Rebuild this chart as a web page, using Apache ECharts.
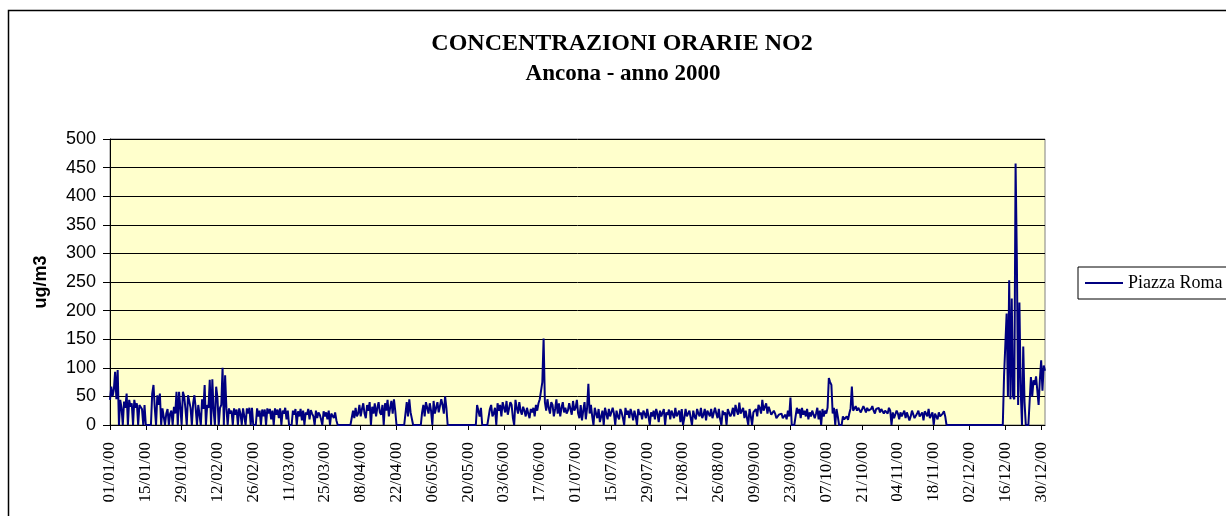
<!DOCTYPE html>
<html>
<head>
<meta charset="utf-8">
<script src="https://cdn.jsdelivr.net/npm/echarts@6/dist/echarts.min.js"></script>
<style>
  html, body { margin: 0; padding: 0; background: #fff; }
  #chart { width: 1226px; height: 516px; }
</style>
</head>
<body>
<div id="chart"></div>
<script>
// NO2 hourly concentrations, Ancona 2000 - two readings per day (night / day), ug/m3
// missing data is drawn as 0 like in the original sheet
var jan = [44,67, 50,62, 93,45, 96,0, 44,30, 0,41, 30,55, 0,44, 32,38, 0,44, 30,38, 0,35, 38,28, 0,35, 0,0, 0,0,
  0,55, 70,30, 0,52, 35,55, 0,29, 26,0, 20,28, 0,20, 25,0, 32,20, 58,0, 58,30, 0,58, 50,28, 0,52];
var feb = [55,30, 0,38, 52,29, 0,35, 38,0, 45,28, 70,0, 35,30, 79,0, 80,25, 0,67, 48,0, 30,35, 100,0, 87,29,
  0,29, 20,25, 0,29, 18,27, 0,29, 20,0, 29,15, 0,29, 20,30, 0,30, 0,0, 0,29, 15,25, 0,27];
var mar = [15,27, 0,29, 20,28, 10,25, 0,29, 18,27, 12,29, 0,25, 20,30, 10,25, 0,0, 0,25, 18,28, 0,24, 15,28,
  8,25, 0,22, 18,28, 10,26, 20,15, 0,25, 12,22, 18,10, 0,24, 15,22, 10,25, 0,20, 18,12, 22,8, 0,0, 0,0];
var apr = [0,0, 0,0, 0,0, 0,0, 25,12, 30,15, 20,35, 15,28, 38,20, 12,35, 25,40, 0,32, 20,38, 15,30, 40,22,
  18,35, 0,38, 25,44, 15,30, 42,20, 45,25, 0,0, 0,0, 0,0, 0,20, 40,15, 45,22, 20,0, 0,0, 0,0];
var may = [0,0, 22,35, 15,40, 30,20, 38,25, 0,42, 20,30, 40,22, 25,45, 35,20, 50,30,
  0,0, 0,0, 0,0, 0,0, 0,0, 0,0, 0,0, 0,0, 0,0, 0,0, 0,0,
  0,35, 38,15, 30,0, 0,0, 0,0, 0,28, 35,15, 20,30, 0,38];
var jun = [25,35, 15,40, 30,22, 42,18, 20,40, 35,12, 0,44, 30,20, 40,25, 18,32, 25,15, 30,20, 12,28, 22,30, 15,35,
  25,38, 45,60, 75,151, 40,25, 45,30, 20,40, 35,15, 28,45, 20,38, 15,30, 40,22, 30,20, 25,38, 35,18, 42,25];
var jul = [30,44, 20,12, 35,8, 25,40, 10,30, 72,20, 35,15, 0,30, 20,12, 28,5, 15,25, 0,30, 20,10, 28,15, 12,30,
  20,0, 25,15, 10,28, 22,12, 0,30, 18,25, 12,28, 20,8, 25,15, 0,28, 18,22, 10,25, 20,12, 28,15, 0,22, 15,25];
var aug = [10,28, 20,5, 25,15, 12,28, 0,22, 18,27, 10,25, 22,12, 30,15, 18,25, 5,28, 0,12, 28,15, 12,25, 22,0,
  25,15, 10,28, 20,15, 30,12, 18,28, 8,25, 22,15, 28,12, 15,30, 20,12, 28,10, 0,25, 18,22, 0,28, 25,15, 20,30];
var sep = [15,35, 25,18, 39,20, 18,30, 12,25, 22,0, 28,15, 0,22, 20,28, 15,35, 30,20, 44,25, 28,38, 20,32, 35,18,
  15,25, 20,12, 10,18, 15,20, 12,15, 18,10, 25,15, 48,0, 0,0, 0,30, 20,28, 12,30, 18,25, 15,28, 10,22];
var oct = [15,25, 28,12, 20,30, 10,25, 0,28, 15,25, 20,30, 82,75, 70,20, 30,0, 28,15, 0,0, 0,15, 10,12, 15,9,
  20,29, 67,25, 28,33, 25,30, 30,22, 25,33, 28,22, 30,25, 22,28, 33,25, 20,28, 25,30, 22,28, 30,20, 25,28, 20,30];
var nov = [25,0, 22,12, 15,25, 20,10, 22,15, 18,25, 12,22, 20,8, 15,25, 22,12, 10,20, 25,15, 18,22, 8,24, 20,15,
  28,12, 15,22, 0,20, 18,10, 22,15, 12,20, 24,15, 0,0, 0,0, 0,0, 0,0, 0,0, 0,0, 0,0, 0,0];
var dec = [0,0, 0,0, 0,0, 0,0, 0,0, 0,0, 0,0, 0,0, 0,0, 0,0, 0,0, 0,0, 0,0, 0,0,
  0,87, 87,195, 50,253, 45,221, 50,45, 457,288, 35,214, 60,0, 137,40, 0,0, 0,0, 84,50, 78,70, 85,60, 35,80, 113,60, 104,95];

var piazzaRoma = [].concat(jan, feb, mar, apr, may, jun, jul, aug, sep, oct, nov, dec);

// category labels dd/mm/00, one per reading (two per day)
var categories = [];
for (var d = 0; d < 366; d++) {
  var dt = new Date(2000, 0, 1 + d);
  var s = ('0' + dt.getDate()).slice(-2) + '/' + ('0' + (dt.getMonth() + 1)).slice(-2) + '/00';
  categories.push(s, s);
}

var chart = echarts.init(document.getElementById('chart'), null, { renderer: 'canvas' });
chart.setOption({
  animation: false,
  backgroundColor: '#ffffff',
  graphic: [
    { type: 'rect', silent: true, z: -1, shape: { x: 8.5, y: 10.5, width: 1300, height: 600 },
      style: { fill: 'none', stroke: '#000', lineWidth: 1.5 } },
    { type: 'text', x: 622, y: 44, style: { text: 'CONCENTRAZIONI ORARIE NO2', fontFamily: 'Liberation Serif',
      fontWeight: 'bold', fontSize: 24, fill: '#000', align: 'center', verticalAlign: 'middle' } },
    { type: 'text', x: 623, y: 74, style: { text: 'Ancona - anno 2000', fontFamily: 'Liberation Serif',
      fontWeight: 'bold', fontSize: 23, fill: '#000', align: 'center', verticalAlign: 'middle' } }
  ],
  grid: { left: 110, right: 181, top: 139, bottom: 91, show: true, backgroundColor: '#FFFFCC', borderColor: '#808080', borderWidth: 1 },
  legend: {
    data: ['Piazza Roma'], left: 1078, top: 267, orient: 'vertical',
    padding: [7, 8, 7, 7], borderColor: '#000', borderWidth: 1, borderRadius: 0,
    icon: 'rect', itemWidth: 38, itemHeight: 2,
    textStyle: { fontFamily: 'Liberation Serif', fontSize: 18, color: '#000', lineHeight: 18 }
  },
  xAxis: {
    type: 'category', data: categories, boundaryGap: false,
    axisLine: { lineStyle: { color: '#000', width: 1 } },
    axisTick: { interval: 27, length: 5, lineStyle: { color: '#000' } },
    axisLabel: { interval: 27, rotate: 90, margin: 17, fontFamily: 'Liberation Serif', fontSize: 17, color: '#000' },
    splitLine: { show: false }
  },
  yAxis: {
    type: 'value', min: 0, max: 500, interval: 50,
    name: 'ug/m3', nameLocation: 'middle', nameGap: 60,
    nameTextStyle: { fontFamily: 'Liberation Sans', fontWeight: 'bold', fontSize: 18, color: '#000' },
    axisLine: { show: true, lineStyle: { color: '#000' } },
    axisTick: { show: true, length: 7, lineStyle: { color: '#000' } },
    axisLabel: { margin: 14, fontFamily: 'Liberation Sans', fontSize: 18, color: '#000' },
    splitLine: { lineStyle: { color: '#000', width: 1 } }
  },
  series: [{
    name: 'Piazza Roma', type: 'line', data: piazzaRoma, symbol: 'none',
    lineStyle: { color: '#000080', width: 2 }, itemStyle: { color: '#000080' }
  }]
});
</script>
</body>
</html>
